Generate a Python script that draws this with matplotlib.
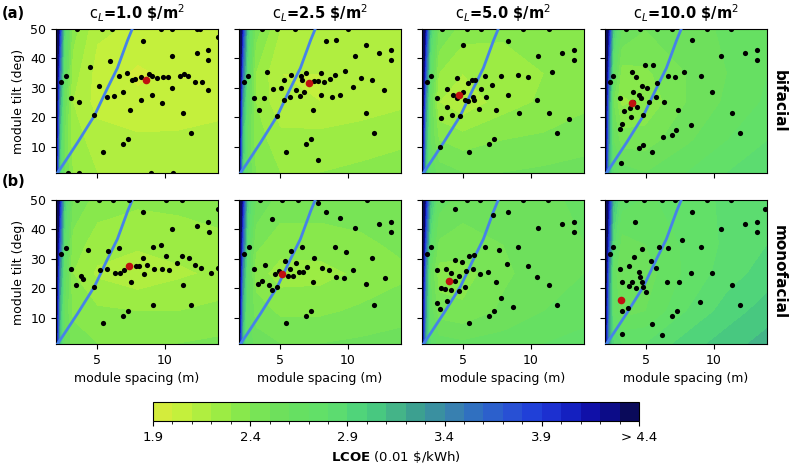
import numpy as np
import matplotlib
matplotlib.use("Agg")
import matplotlib.pyplot as plt
from matplotlib.colors import ListedColormap, BoundaryNorm
from matplotlib.cm import ScalarMappable

# land cost per panel column and row labels
costs = ["1.0", "2.5", "5.0", "10.0"]
row_names = ["bifacial", "monofacial"]

# coarse LCOE grid (rows = tilt, cols = spacing)
grid_spacing = [2.0, 2.25, 2.6, 3.2, 5, 8, 11, 14]
grid_tilt = [1, 12, 25, 35, 50]

lcoe_bif = [
    [[4.3, 3.0, 2.5, 2.3, 2.2, 2.18, 2.18, 2.2],
     [4.5, 3.1, 2.5, 2.25, 2.15, 2.12, 2.12, 2.14],
     [4.7, 3.3, 2.6, 2.2, 2.06, 2.02, 2.04, 2.06],
     [4.9, 3.6, 2.7, 2.25, 2.06, 1.98, 2.03, 2.06],
     [5.2, 4.0, 2.9, 2.35, 2.12, 2.08, 2.08, 2.1]],
    [[4.3, 3.0, 2.6, 2.4, 2.3, 2.3, 2.32, 2.35],
     [4.5, 3.1, 2.6, 2.35, 2.24, 2.24, 2.26, 2.28],
     [4.7, 3.3, 2.7, 2.3, 2.12, 2.1, 2.14, 2.18],
     [4.9, 3.6, 2.8, 2.3, 2.1, 2.1, 2.15, 2.18],
     [5.2, 4.0, 3.0, 2.45, 2.2, 2.18, 2.18, 2.2]],
    [[4.3, 3.1, 2.7, 2.55, 2.5, 2.5, 2.52, 2.55],
     [4.5, 3.2, 2.6, 2.4, 2.35, 2.4, 2.42, 2.45],
     [4.7, 3.4, 2.6, 2.2, 2.12, 2.25, 2.32, 2.38],
     [4.9, 3.7, 2.75, 2.3, 2.2, 2.25, 2.3, 2.35],
     [5.2, 4.1, 3.0, 2.5, 2.35, 2.32, 2.35, 2.38]],
    [[4.3, 3.2, 2.8, 2.65, 2.6, 2.7, 2.8, 2.9],
     [4.5, 3.3, 2.6, 2.45, 2.45, 2.58, 2.7, 2.8],
     [4.7, 3.4, 2.5, 2.28, 2.32, 2.5, 2.62, 2.72],
     [4.9, 3.7, 2.7, 2.35, 2.38, 2.5, 2.6, 2.7],
     [5.2, 4.1, 3.0, 2.6, 2.5, 2.55, 2.62, 2.7]],
]

lcoe_mono = [
    [[4.3, 3.1, 2.6, 2.45, 2.4, 2.4, 2.4, 2.42],
     [4.5, 3.2, 2.6, 2.38, 2.32, 2.3, 2.3, 2.33],
     [4.7, 3.4, 2.7, 2.3, 2.18, 2.12, 2.18, 2.22],
     [4.9, 3.7, 2.8, 2.35, 2.25, 2.22, 2.24, 2.27],
     [5.2, 4.1, 3.0, 2.5, 2.35, 2.32, 2.33, 2.35]],
    [[4.3, 3.1, 2.7, 2.55, 2.5, 2.5, 2.52, 2.55],
     [4.5, 3.2, 2.65, 2.45, 2.38, 2.38, 2.42, 2.45],
     [4.7, 3.4, 2.7, 2.35, 2.25, 2.26, 2.32, 2.38],
     [4.9, 3.7, 2.8, 2.42, 2.35, 2.35, 2.38, 2.42],
     [5.2, 4.1, 3.0, 2.6, 2.45, 2.45, 2.45, 2.48]],
    [[4.3, 3.2, 2.8, 2.65, 2.62, 2.65, 2.7, 2.75],
     [4.5, 3.3, 2.65, 2.45, 2.42, 2.52, 2.6, 2.65],
     [4.7, 3.4, 2.6, 2.35, 2.35, 2.48, 2.55, 2.6],
     [4.9, 3.7, 2.8, 2.48, 2.45, 2.5, 2.55, 2.6],
     [5.2, 4.1, 3.1, 2.65, 2.55, 2.55, 2.58, 2.62]],
    [[4.3, 3.3, 2.9, 2.8, 2.8, 2.95, 3.05, 3.15],
     [4.5, 3.4, 2.7, 2.55, 2.6, 2.8, 2.95, 3.05],
     [4.7, 3.5, 2.65, 2.5, 2.55, 2.72, 2.85, 2.95],
     [4.9, 3.8, 2.85, 2.55, 2.6, 2.72, 2.82, 2.9],
     [5.2, 4.1, 3.1, 2.75, 2.68, 2.75, 2.82, 2.88]],
]

# blue constraint curve
line_spacing = [2.1, 2.54, 3.59, 4.82, 5.73, 6.51, 7.27, 7.6]
line_tilt = [1, 4, 11.4, 20.5, 29.4, 36.7, 46.3, 50]

# sampled points (black) for each panel
bif_x = [
    [2.37, 2.71, 3.10, 3.72, 4.50, 5.14, 4.82, 5.43, 5.75, 5.97, 6.26, 6.63, 6.95, 7.22, 7.44,
     6.90, 7.29, 7.59, 7.83, 8.23, 8.23, 8.37, 8.84, 9.03, 9.03, 9.45, 9.77, 9.89, 10.26, 10.55,
     10.55, 11.12, 11.34, 11.41, 11.73, 11.90, 12.20, 12.34, 12.71, 13.13, 13.15, 13.20,
     3.54, 5.38, 6.10, 9.72, 10.53, 12.37, 12.59, 13.9, 2.90, 3.69, 8.96, 10.62],
    [8.40, 9.13, 11.31, 10.53, 12.32, 13.18, 13.20, 2.69, 2.39, 4.08, 3.08, 3.84, 3.47, 4.52,
     5.06, 5.31, 5.82, 6.53, 6.66, 6.95, 6.22, 6.78, 6.49, 5.73, 5.31, 4.82, 7.52, 7.79, 8.03,
     8.28, 8.69, 9.08, 9.75, 8.00, 8.81, 9.45, 10.36, 10.95, 11.76, 12.64, 11.34, 11.90, 7.44,
     7.29, 6.90, 5.43, 7.83, 3.67, 4.77, 6.12, 10.04],
    [5.01, 8.35, 10.53, 12.32, 13.13, 13.15, 2.69, 2.39, 4.55, 3.81, 3.08, 3.81, 3.40, 4.23,
     4.79, 4.25, 4.55, 5.04, 5.16, 5.41, 5.65, 5.90, 5.75, 5.82, 5.41, 6.34, 6.61, 7.12, 6.73,
     7.78, 8.35, 9.06, 9.77, 6.17, 7.44, 9.11, 10.43, 11.58, 11.34, 12.81, 11.88, 7.29, 6.90,
     5.43, 3.32, 3.5, 5.3, 6.3, 9.4, 11.3],
    [8.37, 10.53, 12.29, 13.15, 13.20, 2.61, 2.37, 3.96, 4.94, 5.50, 4.30, 6.61, 7.15, 7.81,
     9.06, 4.72, 5.06, 4.08, 4.50, 5.85, 3.10, 3.37, 3.84, 4.03, 3.89, 4.38, 4.65, 5.26, 5.72,
     6.34, 4.77, 3.27, 3.12, 7.39, 9.84, 8.30, 11.31, 11.88, 7.22, 6.90, 6.29, 5.46, 4.80, 4.50,
     3.20, 3.52, 4.57, 5.80, 6.90, 9.47, 11.26],
]
bif_y = [
    [31.9, 34.1, 26.6, 25.1, 36.9, 30.5, 20.6, 8.0, 26.9, 39.1, 27.1, 34.1, 28.6, 35.1, 22.3,
     10.8, 12.5, 32.5, 33.0, 33.7, 25.8, 45.9, 34.7, 34.1, 27.4, 33.3, 24.9, 33.7, 33.6, 40.7,
     29.8, 34.1, 21.4, 34.6, 34.1, 14.5, 32.0, 41.8, 32.0, 42.7, 29.1, 39.3,
     50, 50, 50, 50, 50, 50, 50, 47.3, 1, 1, 1, 1],
    [45.9, 46.3, 44.5, 40.7, 41.8, 42.7, 39.3, 34.1, 31.8, 35.5, 26.6, 26.6, 22.6, 29.5,
     29.8, 32.7, 34.5, 34.1, 32.8, 34.9, 29.3, 28.6, 27.3, 26.8, 26.0, 20.4, 32.4, 32.3, 35.1,
     32.0, 33.0, 34.2, 35.6, 27.7, 26.9, 27.6, 30.3, 33.3, 32.8, 29.1, 21.4, 14.5, 22.3,
     12.5, 10.7, 8.0, 5.4, 50, 50, 50, 50],
    [44.6, 45.9, 40.7, 41.8, 42.7, 39.3, 34.1, 31.8, 33.3, 29.7, 26.6, 23.6, 19.8, 20.8,
     20.5, 27.7, 26.6, 28.7, 26.0, 31.6, 32.8, 32.5, 26.9, 26.0, 25.5, 29.7, 34.1, 31.0, 26.9,
     34.1, 27.7, 34.2, 33.7, 22.7, 22.3, 21.5, 26.0, 35.2, 21.4, 19.3, 14.5, 12.5, 10.7,
     8.0, 9.8, 50, 50, 50, 50, 50],
    [46.1, 40.7, 42.0, 42.7, 39.3, 34.1, 32.0, 35.5, 37.6, 37.7, 33.7, 34.0, 33.8, 35.4,
     34.1, 30.5, 29.8, 28.7, 27.6, 31.7, 26.6, 22.2, 23.2, 25.3, 20.2, 23.5, 26.5, 25.2, 26.9,
     25.3, 20.6, 17.6, 15.9, 22.3, 28.6, 17.5, 21.4, 14.5, 15.7, 14.0, 13.3, 8.1, 10.6, 9.4,
     4.5, 50, 50, 50, 50, 50, 50],
]
mono_x = [
    [8.37, 10.55, 12.34, 13.18, 13.23, 13.89, 2.39, 2.71, 3.10, 3.47, 3.81, 3.99, 4.38, 4.82,
     5.21, 5.75, 5.85, 6.36, 6.63, 6.70, 7.00, 7.90, 8.10, 7.49, 8.37, 8.44, 8.69, 9.11, 9.23,
     9.72, 9.77, 10.09, 10.33, 10.87, 11.26, 11.34, 11.75, 12.22, 12.66, 13.42, 13.89, 9.11,
     11.90, 6.95, 7.29, 5.48, 3.52, 5.16, 6.21, 7.39, 10.09, 11.29],
    [7.83, 8.37, 9.43, 4.40, 10.53, 12.32, 13.18, 13.20, 2.71, 2.39, 3.08, 3.89, 3.42, 3.72,
     4.21, 4.45, 4.82, 4.65, 4.94, 5.38, 5.85, 6.63, 5.58, 5.99, 5.75, 6.19, 6.44, 6.71, 7.02,
     7.49, 7.44, 8.13, 8.62, 9.08, 9.89, 9.13, 9.70, 10.41, 11.80, 11.34, 12.76, 11.90, 7.29,
     6.90, 5.43, 3.54, 5.14, 6.36, 11.39],
    [4.43, 7.19, 8.35, 10.53, 12.32, 13.13, 13.15, 2.69, 2.39, 6.63, 7.69, 9.06, 5.48, 5.82,
     4.40, 4.92, 8.27, 9.82, 3.10, 3.74, 4.16, 4.70, 5.26, 5.72, 6.24, 6.88, 7.44, 10.48, 11.34,
     3.40, 3.71, 4.13, 4.70, 5.16, 4.43, 3.13, 3.81, 3.32, 7.81, 8.72, 7.29, 11.88, 6.90, 5.43,
     3.49, 5.28, 6.26, 9.45, 11.29],
    [8.37, 10.53, 12.29, 13.15, 13.20, 13.76, 4.20, 2.61, 2.37, 4.70, 5.99, 6.61, 7.69, 9.06,
     4.13, 5.38, 5.72, 3.10, 3.79, 4.50, 3.27, 3.79, 4.25, 4.01, 4.74, 4.82, 5.04, 4.57, 3.22,
     3.71, 6.58, 7.44, 8.30, 9.84, 11.31, 11.88, 8.98, 7.27, 6.90, 5.43, 3.22, 6.17,
     3.52, 4.89, 6.17, 7.15, 9.47, 11.26],
]
mono_y = [
    [45.8, 40.3, 41.2, 42.6, 39.1, 46.9, 31.5, 33.7, 26.4, 21.1, 24.1, 23.0, 32.9, 20.4,
     26.2, 26.6, 32.5, 25.0, 33.7, 25.0, 26.1, 27.7, 27.7, 22.1, 30.3, 24.9, 27.9, 33.9, 26.6,
     34.8, 26.6, 30.9, 26.1, 28.6, 31.0, 21.2, 30.1, 28.0, 26.7, 25.2, 27.0, 14.4,
     14.4, 10.6, 12.2, 8.0, 50, 50, 50, 50, 50, 50],
    [48.9, 45.8, 44.0, 43.7, 40.4, 41.7, 42.6, 39.1, 33.9, 31.5, 26.4, 27.8, 21.3, 22.3,
     21.0, 19.3, 20.4, 24.9, 25.7, 29.2, 32.6, 33.9, 24.0, 24.0, 26.6, 28.7, 25.5, 25.5, 27.1,
     30.3, 22.1, 26.8, 26.2, 33.9, 32.4, 23.9, 23.3, 26.2, 30.1, 21.3, 23.5, 14.3, 12.3,
     10.6, 8.0, 50, 50, 50, 50],
    [47.1, 44.8, 45.8, 40.4, 41.7, 42.6, 39.1, 33.9, 31.5, 33.9, 32.9, 34.0, 31.1, 31.4,
     29.6, 28.8, 28.3, 27.4, 26.2, 26.4, 25.0, 24.3, 25.8, 26.6, 24.9, 25.6, 22.1, 23.9, 21.2,
     20.2, 19.8, 19.4, 19.0, 20.4, 22.6, 14.8, 15.7, 12.8, 16.5, 13.6, 12.3, 14.3, 10.5, 8.0,
     50, 50, 50, 50, 50],
    [45.8, 40.3, 41.7, 42.5, 39.1, 46.9, 42.4, 33.9, 31.7, 33.3, 34.0, 33.8, 36.3, 33.9,
     30.5, 29.1, 26.8, 26.6, 27.5, 25.5, 22.1, 20.7, 20.1, 22.2, 22.1, 20.5, 18.8, 23.9, 12.1,
     13.4, 22.1, 22.1, 25.0, 25.2, 21.1, 14.3, 15.4, 12.1, 10.5, 7.8, 4.4, 4.1,
     50, 50, 50, 50, 50, 50],
]
# optimum (red) per panel
bif_best_x = [8.59, 7.15, 4.70, 3.96]
bif_best_y = [32.8, 31.5, 27.5, 24.9]
mono_best_x = [7.34, 5.16, 4.01, 3.18]
mono_best_y = [27.5, 24.9, 22.4, 16.0]

levels = np.round(np.arange(1.9, 4.41, 0.1), 2)
colors = ["#d4ec3c", "#c4f03c", "#b0ee40", "#9cec44", "#88e84c", "#78e456", "#6ee05c",
          "#66e062", "#62e068", "#5cdc70", "#50d47a", "#48c880", "#44b488", "#3ca090",
          "#3a90a0", "#3880b0", "#3070c0", "#2c60cc", "#2850d4", "#2040d8", "#1c30d0",
          "#1420c0", "#1010a8", "#0c0c88", "#0a0a5a"]
cmap = ListedColormap(colors)
cmap.set_over(colors[-1])
cmap.set_under(colors[0])

fig = plt.figure(figsize=(7.9, 4.66), dpi=100)
W, H = 790, 466
lefts = [56, 239, 422, 605]
tops = [29, 200]
pw, ph = 162, 144

fields = [lcoe_bif, lcoe_mono]
xs = [bif_x, mono_x]
ys = [bif_y, mono_y]
bx = [bif_best_x, mono_best_x]
by = [bif_best_y, mono_best_y]

for r in range(2):
    for c in range(4):
        ax = fig.add_axes([lefts[c] / W, 1 - (tops[r] + ph) / H, pw / W, ph / H])
        ax.contourf(grid_spacing, grid_tilt, np.array(fields[r][c]), levels=levels,
                    cmap=cmap, extend="both")
        ax.plot(line_spacing, line_tilt, color="#4682e8", lw=2, zorder=3)
        ax.scatter(xs[r][c], ys[r][c], s=14, color="black", zorder=4, linewidths=0)
        ax.scatter([bx[r][c]], [by[r][c]], s=30, color="#c01010", zorder=5, linewidths=0)
        ax.set_xlim(2, 13.9)
        ax.set_ylim(1, 50)
        ax.set_xticks([5, 10])
        ax.set_yticks([10, 20, 30, 40, 50])
        ax.tick_params(labelsize=9)
        if c == 0:
            ax.set_ylabel("module tilt (deg)", fontsize=9)
        else:
            ax.set_yticklabels([])
        if r == 1:
            ax.set_xlabel("module spacing (m)", fontsize=9)
        else:
            ax.set_xticklabels([])
            ax.set_title(r"$\mathrm{c}_L$=" + costs[c] + r" \$/m$^2$",
                         fontsize=10.5, fontweight="bold", pad=7)

fig.text(2 / W, 1 - 14 / H, "(a)", fontsize=10.5, fontweight="bold", va="center")
fig.text(2 / W, 1 - 181 / H, "(b)", fontsize=10.5, fontweight="bold", va="center")
for r, name in enumerate(row_names):
    fig.text(779 / W, 1 - (tops[r] + ph / 2) / H, name, rotation=-90, fontsize=11,
             fontweight="bold", va="center", ha="center")

cax = fig.add_axes([153 / W, 1 - 421 / H, 486 / W, 19 / H])
sm = ScalarMappable(norm=BoundaryNorm(levels, cmap.N), cmap=cmap)
cb = fig.colorbar(sm, cax=cax, orientation="horizontal")
cb.set_ticks([1.9, 2.4, 2.9, 3.4, 3.9, 4.4])
cb.set_ticklabels(["1.9", "2.4", "2.9", "3.4", "3.9", "> 4.4"])
cb.ax.tick_params(labelsize=9.5)
cb.set_label(r"$\bf{LCOE}$ (0.01 \$/kWh)", fontsize=9.5)

fig.savefig("out.png", dpi=100)
